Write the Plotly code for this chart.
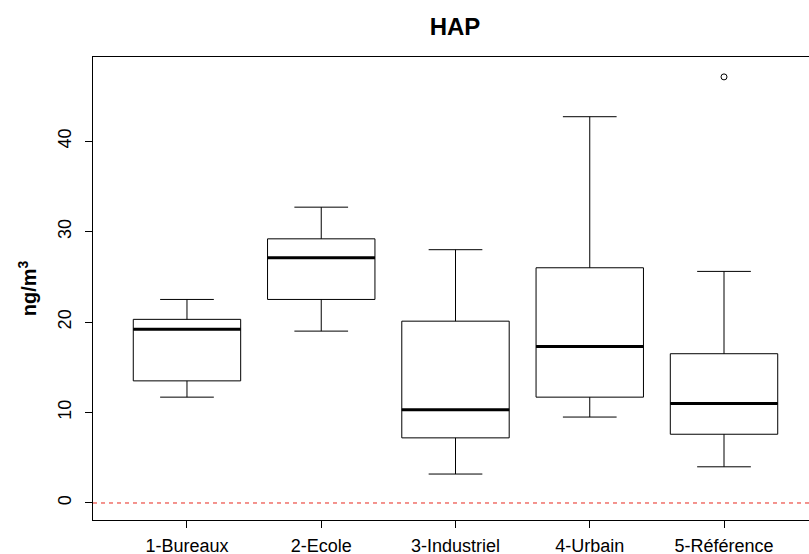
import plotly.graph_objects as go

categories = ["1-Bureaux", "2-Ecole", "3-Industriel", "4-Urbain", "5-Référence"]
lower_whisker = [11.7, 19.0, 3.2, 9.5, 4.0]
q1 = [13.5, 22.5, 7.2, 11.7, 7.6]
median = [19.2, 27.1, 10.3, 17.3, 11.0]
q3 = [20.3, 29.2, 20.1, 26.0, 16.5]
upper_whisker = [22.5, 32.7, 28.0, 42.7, 25.6]
outlier_cat = [5]
outlier_val = [47.1]
y_ticks = [0, 10, 20, 30, 40]

positions = list(range(1, len(categories) + 1))
box_w = 0.8

fig = go.Figure()
for i, pos in enumerate(positions):
    fig.add_trace(go.Box(
        x=[pos], q1=[q1[i]], median=[median[i]], q3=[q3[i]],
        lowerfence=[lower_whisker[i]], upperfence=[upper_whisker[i]],
        width=box_w, whiskerwidth=0.5, fillcolor="white",
        line=dict(color="black", width=1), boxpoints=False,
        showlegend=False, hoverinfo="skip",
    ))
    fig.add_trace(go.Scatter(
        x=[pos - box_w / 2, pos + box_w / 2], y=[median[i], median[i]],
        mode="lines", line=dict(color="black", width=3),
        showlegend=False, hoverinfo="skip",
    ))

fig.add_trace(go.Scatter(
    x=outlier_cat, y=outlier_val, mode="markers",
    marker=dict(symbol="circle-open", size=6, color="black", line=dict(width=1)),
    showlegend=False,
))

fig.add_hline(y=0, line=dict(color="#e8281e", width=1, dash="4px,4px"))

fig.update_layout(
    width=809, height=554,
    margin=dict(l=93, r=0, t=57, b=34, autoexpand=False),
    paper_bgcolor="white", plot_bgcolor="white",
    font=dict(family="Liberation Sans, Arial, sans-serif", size=18, color="black"),
    title=dict(text="<b>HAP</b>", x=0.5056, xref="paper", y=0.952, yanchor="middle",
               font=dict(size=24, color="black")),
    xaxis=dict(
        range=[0.3, 5.633], tickmode="array", tickvals=positions, ticktext=categories,
        showgrid=False, zeroline=False, showline=True, linecolor="black", linewidth=1,
        mirror=True, ticks="outside", ticklen=7, tickcolor="black",
        ticklabelstandoff=2, automargin=False,
    ),
    yaxis=dict(
        range=[-1.88, 49.3], tickmode="array", tickvals=y_ticks,
        showgrid=False, zeroline=False, showline=True, linecolor="black", linewidth=1,
        ticks="outside", ticklen=7, tickcolor="black", tickangle=-90,
        ticklabelstandoff=7, automargin=False,
        title=dict(text="<b>ng/m<sup>3</sup></b>", standoff=12, font=dict(size=20)),
    ),
)

fig.write_html("out.html")
